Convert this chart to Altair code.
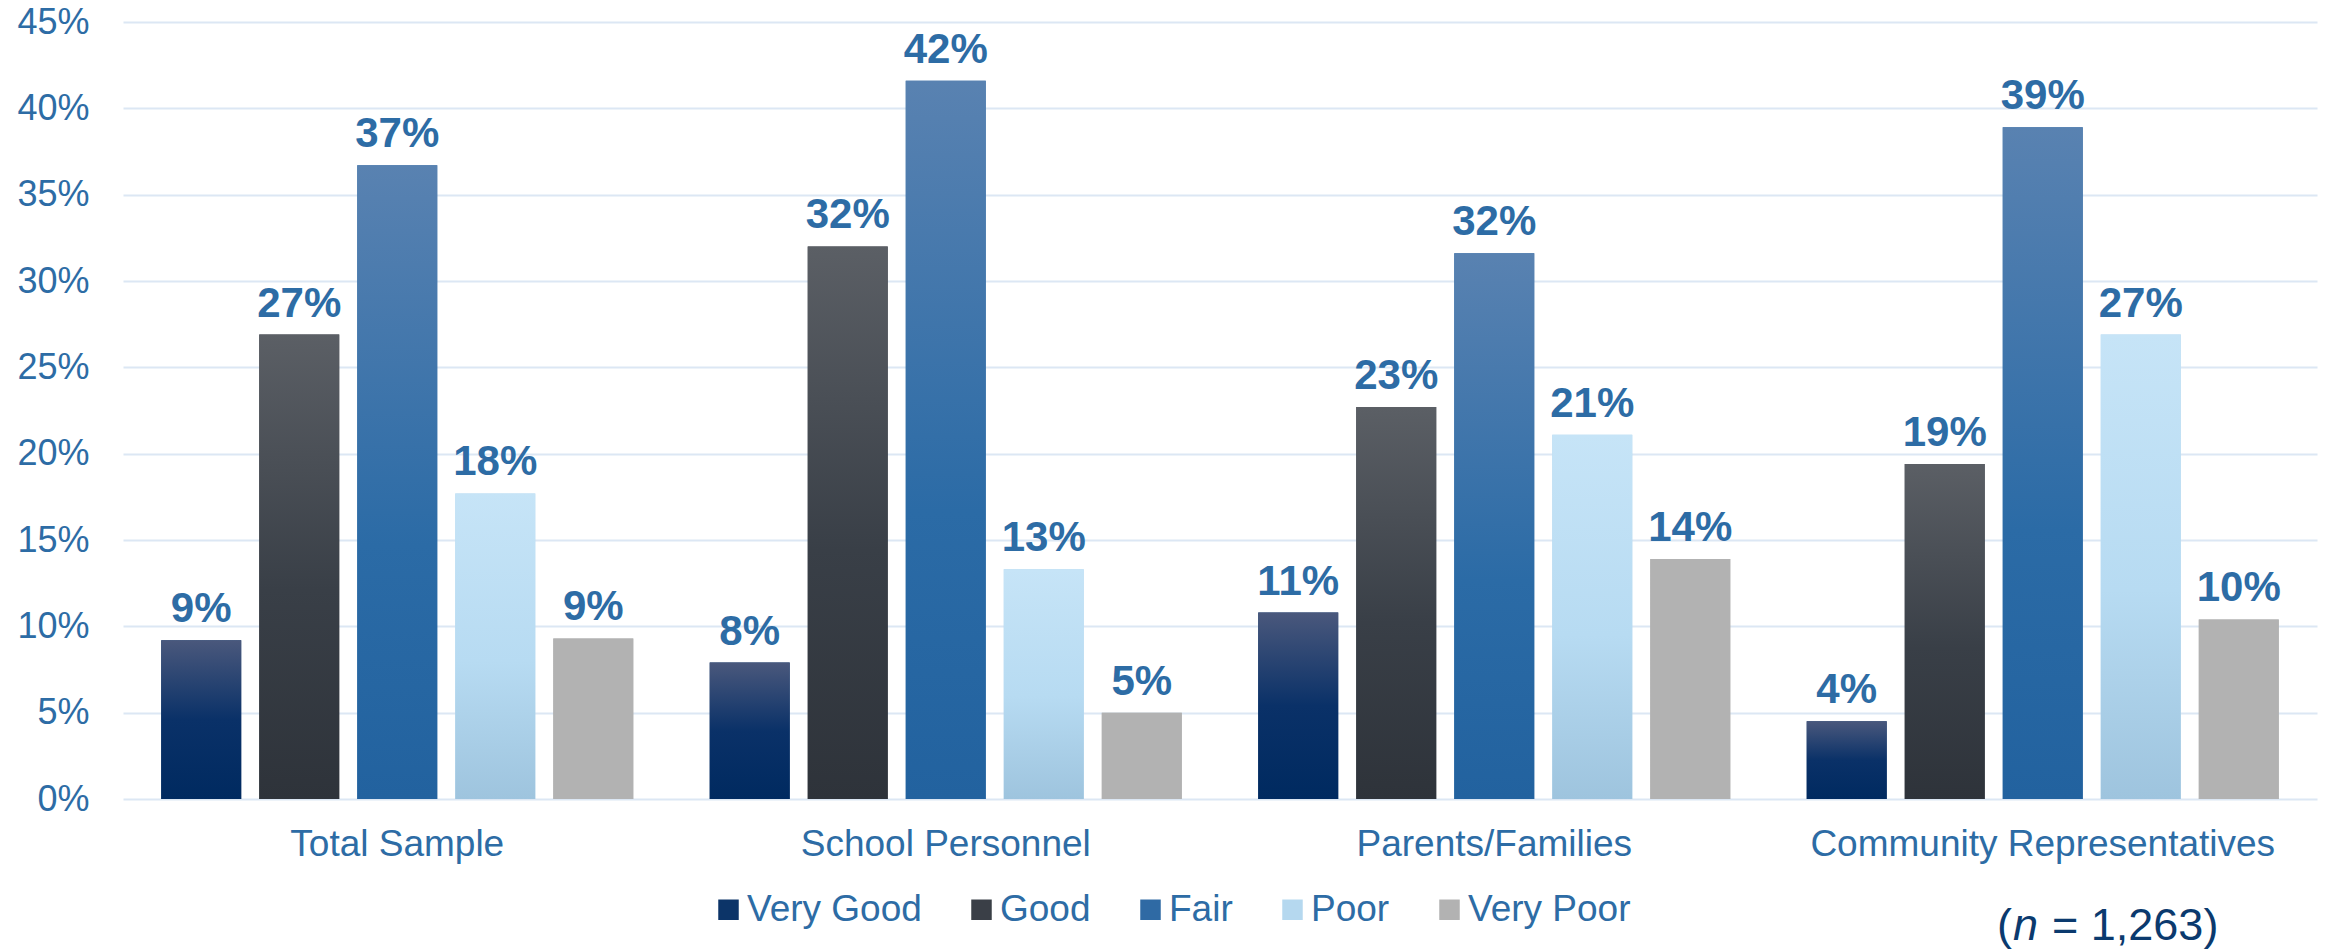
import altair as alt
import pandas as pd

categories = ["Total Sample", "School Personnel", "Parents/Families", "Community Representatives"]
ratings = ["Very Good", "Good", "Fair", "Poor", "Very Poor"]

very_good = [9.2, 7.9, 10.8, 4.5]
good = [26.9, 32.0, 22.7, 19.4]
fair = [36.7, 41.6, 31.6, 38.9]
poor = [17.7, 13.3, 21.1, 26.9]
very_poor = [9.3, 5.0, 13.9, 10.4]

label_very_good = ["9%", "8%", "11%", "4%"]
label_good = ["27%", "32%", "23%", "19%"]
label_fair = ["37%", "42%", "32%", "39%"]
label_poor = ["18%", "13%", "21%", "27%"]
label_very_poor = ["9%", "5%", "14%", "10%"]

y_ticks = [0, 5, 10, 15, 20, 25, 30, 35, 40, 45]
sample_note = "= 1,263)"

series_values = [very_good, good, fair, poor, very_poor]
series_labels = [label_very_good, label_good, label_fair, label_poor, label_very_poor]

rows = []
for r, vals, labs in zip(ratings, series_values, series_labels):
    for c, v, l in zip(categories, vals, labs):
        rows.append({"category": c, "rating": r, "value": v, "label": l})
df = pd.DataFrame(rows)

TEXT_BLUE = "#2d6ca5"
FONT = "Liberation Sans"

solid_colors = ["#0c3468", "#3a3f47", "#2f6aa4", "#b5d8ef", "#b2b2b2"]
gradient_stops = {
    "Very Good": [("#4a587c", 0.0), ("#0a3168", 0.5), ("#002a60", 1.0)],
    "Good": [("#5b5f65", 0.0), ("#393f47", 0.55), ("#2e333a", 1.0)],
    "Fair": [("#5982b1", 0.0), ("#2b6ba6", 0.6), ("#22629f", 1.0)],
    "Poor": [("#c6e4f7", 0.0), ("#b7dbf2", 0.55), ("#9ec4de", 1.0)],
    "Very Poor": [("#b2b2b2", 0.0), ("#b2b2b2", 1.0)],
}

x_enc = alt.X(
    "category:N",
    sort=categories,
    scale=alt.Scale(domain=categories, paddingInner=0, paddingOuter=0),
    axis=alt.Axis(
        title=None, labelAngle=0, domain=False, ticks=False, tickSize=0, labelLimit=0,
        labelPadding=27, labelFontSize=37, labelColor=TEXT_BLUE, labelFont=FONT, grid=False,
    ),
)
xo_enc = alt.XOffset(
    "rating:N",
    sort=ratings,
    scale=alt.Scale(domain=ratings, paddingInner=0.184, paddingOuter=0.39),
)
y_enc = alt.Y(
    "value:Q",
    scale=alt.Scale(domain=[0, 45], nice=False),
    axis=alt.Axis(
        title=None, values=y_ticks, labelExpr="datum.value + '%'", domain=False,
        ticks=False, tickSize=0, labelPadding=34, labelFontSize=36, labelColor=TEXT_BLUE,
        labelFont=FONT, gridColor="#dce7f4", gridWidth=2,
    ),
)

base = alt.Chart(df).encode(x=x_enc, xOffset=xo_enc, y=y_enc)

legend_layer = base.mark_bar().encode(
    color=alt.Color(
        "rating:N",
        sort=ratings,
        scale=alt.Scale(domain=ratings, range=solid_colors),
        legend=alt.Legend(
            title=None, orient="none", legendX=587, legendY=869, direction="horizontal",
            symbolType="square", symbolSize=420, symbolStrokeWidth=0,
            labelFontSize=37, labelColor=TEXT_BLUE, labelFont=FONT, labelOffset=0,
            labelLimit=0, columnPadding=41, padding=0,
        ),
    )
)

layers = [legend_layer]
for r in ratings:
    grad = alt.Gradient(
        gradient="linear",
        stops=[alt.GradientStop(color=c, offset=o) for c, o in gradient_stops[r]],
        x1=0, x2=0, y1=0, y2=1,
    )
    layers.append(base.transform_filter(alt.datum.rating == r).mark_bar(color=grad))

text_layer = base.mark_text(
    baseline="alphabetic", dy=-18, fontSize=42, fontWeight="bold", font=FONT, color=TEXT_BLUE,
).encode(text="label:N")
layers.append(text_layer)

note_df = pd.DataFrame({"a": ["("], "b": ["n"], "c": [sample_note]})
NAVY = "#0b3a6e"
note1 = alt.Chart(note_df).mark_text(
    align="left", baseline="alphabetic", fontSize=45, font=FONT, color=NAVY
).encode(x=alt.value(1874), y=alt.value(918), text="a:N")
note2 = alt.Chart(note_df).mark_text(
    align="left", baseline="alphabetic", fontSize=45, font=FONT, color=NAVY, fontStyle="italic"
).encode(x=alt.value(1890), y=alt.value(918), text="b:N")
note3 = alt.Chart(note_df).mark_text(
    align="left", baseline="alphabetic", fontSize=45, font=FONT, color=NAVY
).encode(x=alt.value(1929), y=alt.value(918), text="c:N")
layers += [note1, note2, note3]

chart = alt.layer(*layers).properties(
    width=2194,
    height=777,
    autosize=alt.AutoSizeParams(type="none"),
    padding={"left": 115, "top": 14, "right": 1, "bottom": 150},
).configure_view(stroke=None)

chart.save("out.html", embed_options={"renderer": "svg", "actions": False})
